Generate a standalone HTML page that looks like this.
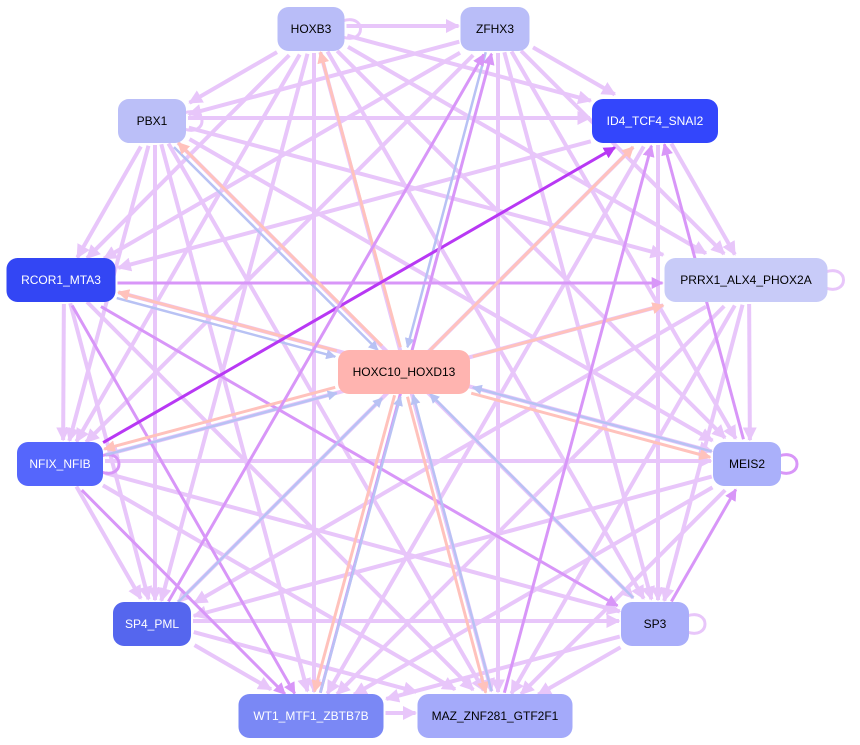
<!DOCTYPE html>
<html><head><meta charset="utf-8"><style>
html,body{margin:0;padding:0;background:#fff;width:860px;height:745px;overflow:hidden}
svg{display:block}
text{font-family:"Liberation Sans",Arial,sans-serif;font-size:12px}
</style></head><body>
<svg id="s" width="860" height="745" viewBox="0 0 860 745" xmlns="http://www.w3.org/2000/svg">
<defs>
<marker id="m0" viewBox="0 0 10 10" refX="9" refY="5" markerWidth="3.5" markerHeight="3.5" orient="auto"><path d="M0,0L10,5L0,10z" fill="#e8c6fa"/></marker>
<marker id="m1" viewBox="0 0 10 10" refX="9" refY="5" markerWidth="4" markerHeight="4" orient="auto"><path d="M0,0L10,5L0,10z" fill="#b838f4"/></marker>
<marker id="m2" viewBox="0 0 10 10" refX="9" refY="5" markerWidth="4" markerHeight="4" orient="auto"><path d="M0,0L10,5L0,10z" fill="#d896f8"/></marker>
<marker id="m3" viewBox="0 0 10 10" refX="9" refY="5" markerWidth="4" markerHeight="4" orient="auto"><path d="M0,0L10,5L0,10z" fill="#ffc2bc"/></marker>
<marker id="m4" viewBox="0 0 10 10" refX="9" refY="5" markerWidth="4" markerHeight="4" orient="auto"><path d="M0,0L10,5L0,10z" fill="#b8c2f4"/></marker>
</defs>
<g id="e"></g>
<g id="n"></g>
</svg>
<script>
var N={
HOXB3:[311,29,67,"#b9bdf8","#000"],
ZFHX3:[495,29,69,"#b9bdf8","#000"],
PBX1:[152,121,68,"#bbbff8","#000"],
ID4_TCF4_SNAI2:[655,121,126,"#3346fc","#fff"],
RCOR1_MTA3:[61,280,109,"#3346f4","#fff"],
PRRX1_ALX4_PHOX2A:[746,280,163,"#c8cbf8","#000"],
HOXC10_HOXD13:[404,372,132,"#ffb4b0","#000"],
NFIX_NFIB:[60,464,86,"#5566fc","#fff"],
MEIS2:[747,464,68,"#aab0fa","#000"],
SP4_PML:[152,624,78,"#5566ee","#fff"],
SP3:[655,624,68,"#a9aefa","#000"],
WT1_MTF1_ZBTB7B:[311,716,145,"#7a88f5","#fff"],
MAZ_ZNF281_GTF2F1:[495,716,155,"#a4aafa","#000"]
};
var names=Object.keys(N);
var special={
"NFIX_NFIB>ID4_TCF4_SNAI2":1,"RCOR1_MTA3>PRRX1_ALX4_PHOX2A":2,"WT1_MTF1_ZBTB7B>ZFHX3":2,
"SP4_PML>ZFHX3":2,"MEIS2>ID4_TCF4_SNAI2":2,"MAZ_ZNF281_GTF2F1>ID4_TCF4_SNAI2":2,
"RCOR1_MTA3>SP3":2,"NFIX_NFIB>WT1_MTF1_ZBTB7B":2,"RCOR1_MTA3>WT1_MTF1_ZBTB7B":2,
"SP3>MEIS2":2,
"HOXC10_HOXD13>ID4_TCF4_SNAI2":3,"HOXC10_HOXD13>PRRX1_ALX4_PHOX2A":3,"HOXC10_HOXD13>PBX1":3,"HOXC10_HOXD13>HOXB3":3,
"HOXC10_HOXD13>NFIX_NFIB":3,"HOXC10_HOXD13>MEIS2":3,"HOXC10_HOXD13>MAZ_ZNF281_GTF2F1":3,"HOXC10_HOXD13>WT1_MTF1_ZBTB7B":3,"HOXC10_HOXD13>RCOR1_MTA3":3,
"PBX1>HOXC10_HOXD13":4,"ZFHX3>HOXC10_HOXD13":4,"SP4_PML>HOXC10_HOXD13":4,"SP3>HOXC10_HOXD13":4,"MEIS2>HOXC10_HOXD13":4,"NFIX_NFIB>HOXC10_HOXD13":4,"RCOR1_MTA3>HOXC10_HOXD13":4,"WT1_MTF1_ZBTB7B>HOXC10_HOXD13":4,"MAZ_ZNF281_GTF2F1>HOXC10_HOXD13":4
};
var col=["#e8c6fa","#b838f4","#d896f8","#ffc2bc","#b8c2f4"];
var wd=[4,3,3,3,2.5];
function clip(a,b){var dx=b[0]-a[0],dy=b[1]-a[1];var hw=a[2]/2+2,hh=24;var t=Math.min(Math.abs(hw/(dx||1e-9)),Math.abs(hh/(dy||1e-9)));return [a[0]+dx*t,a[1]+dy*t];}
var E=document.getElementById("e"),h="",h2="";
for(var i=0;i<names.length;i++)for(var j=0;j<names.length;j++){if(i==j)continue;
var k=names[i]+">"+names[j];var c=special[k]||0;
if(!c){ if(special[names[j]+">"+names[i]]) continue; if(j<i) continue; if(names[i]=="HOXC10_HOXD13"||names[j]=="HOXC10_HOXD13") continue;}
var a=N[names[i]],b=N[names[j]];var off=c?3:-3;var dx=b[0]-a[0],dy=b[1]-a[1],L=Math.hypot(dx,dy);var ox=-dy/L*off,oy=dx/L*off;
var p=clip([a[0]+ox,a[1]+oy,a[2]],[b[0]+ox,b[1]+oy]);var q=clip([b[0]+ox,b[1]+oy,b[2]],[a[0]+ox,a[1]+oy]);
var s='<line x1="'+p[0]+'" y1="'+p[1]+'" x2="'+q[0]+'" y2="'+q[1]+'" stroke="'+col[c]+'" stroke-width="'+wd[c]+'" marker-end="url(#m'+c+')"/>';
if(c) h2+=s; else h+=s;}
["HOXB3","PBX1","PRRX1_ALX4_PHOX2A","MEIS2","SP3","NFIX_NFIB"].forEach(function(n){var a=N[n];var x=a[0]+a[2]/2,y=a[1];var c=n=="MEIS2"||n=="NFIX_NFIB"?"#d896f8":"#e8c6fa";
h+='<path d="M'+(x-2)+','+(y-8)+' C'+(x+22)+','+(y-16)+' '+(x+22)+','+(y+16)+' '+(x-2)+','+(y+8)+'" fill="none" stroke="'+c+'" stroke-width="3"/>';});
E.innerHTML=h+h2;
var G=document.getElementById("n"),g="";
names.forEach(function(n){var a=N[n];g+='<rect x="'+(a[0]-a[2]/2)+'" y="'+(a[1]-22)+'" width="'+a[2]+'" height="44" rx="11" fill="'+a[3]+'"/><text x="'+a[0]+'" y="'+(a[1]+4)+'" text-anchor="middle" fill="'+a[4]+'">'+n+'</text>';});
G.innerHTML=g;
</script>
</body></html>
